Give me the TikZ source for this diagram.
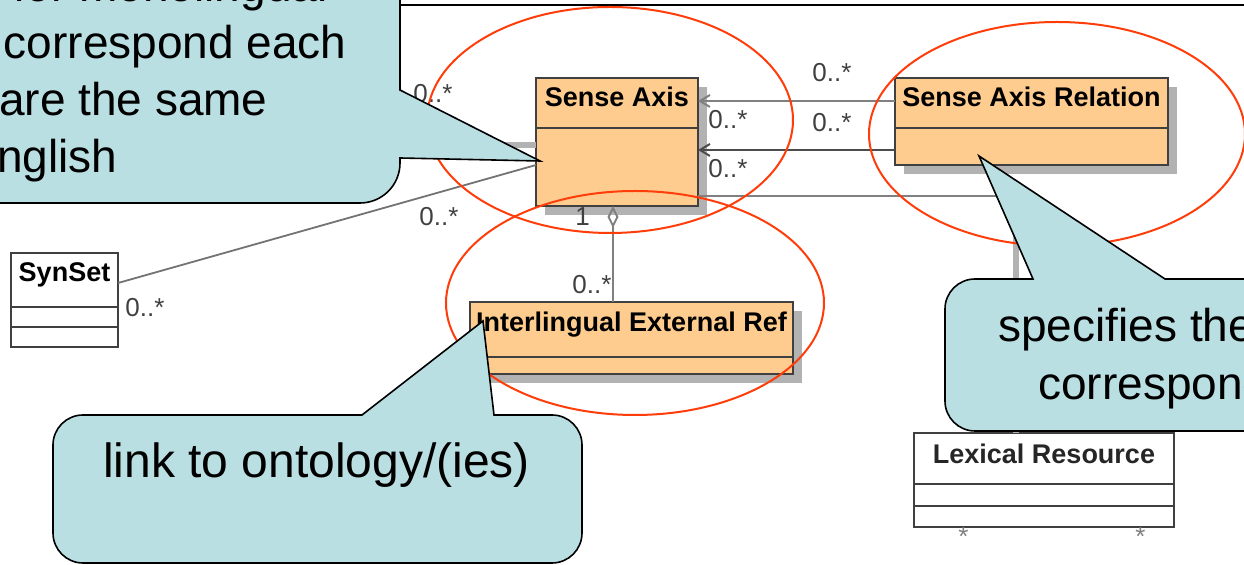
\documentclass[tikz,border=0pt]{standalone}
\usepackage{fontspec}
\setmainfont{Liberation Sans}
\usepackage{tikz}
\usetikzlibrary{calc, shadows, arrows.meta}

\definecolor{classfill}{RGB}{255,204,143}
\definecolor{classline}{RGB}{64,64,64}
\definecolor{notefill}{RGB}{186,223,227}
\definecolor{ringred}{RGB}{255,61,10}

\tikzset{
  umlclass/.style={draw=classline, line width=1.2pt, fill=classfill, anchor=north west,
    inner sep=0pt, outer sep=0pt,
    drop shadow={shadow xshift=4.5pt, shadow yshift=-4.5pt, fill=black!30, opacity=1}},
  plainclass/.style={draw=classline, line width=1.2pt, fill=white, anchor=north west,
    inner sep=0pt, outer sep=0pt},
  classname/.style={font=\bfseries\fontsize{13.5}{15}\selectfont, anchor=base, inner sep=0pt},
  compartment/.style={draw=classline, line width=1.2pt},
  assoc/.style={draw=black!50, line width=1pt},
  assocdark/.style={draw=black!70, line width=1pt},
  assocpale/.style={draw=black!30, line width=2.8pt},
  mult/.style={font=\fontsize{13}{15}\selectfont, text=black!75, anchor=base west, inner sep=0pt},
  ring/.style={draw=ringred, line width=1pt},
  note/.style={fill=notefill, draw=black, line width=0.8pt},
  notetext/.style={font=\fontsize{23}{27}\selectfont, inner sep=0pt},
  navi/.style={{Straight Barb[length=5pt, width=6pt]}-}
}

\begin{document}
\begin{tikzpicture}[x=0.5pt, y=-0.5pt]
                \clip (0,0) rectangle (1244,565);
                \draw[line width=1.2pt] (400,100) -- (400,5) -- (1250,5);

                \node[umlclass, minimum width=81pt, minimum height=64pt] (sa) at (536,78) {};
                \node[umlclass, minimum width=136.5pt, minimum height=43.5pt] (sar) at (895,78) {};
                \node[umlclass, minimum width=161.5pt, minimum height=36pt] (ier) at (470,302) {};
                \node[plainclass, minimum width=53.5pt, minimum height=47pt] (syn) at (11,253) {};
                \node[plainclass, minimum width=130pt, minimum height=47pt] (lr) at (914,433) {};

                \coordinate (xc) at (1016,196);
                \coordinate (xe) at (613,0);
                \coordinate (hid) at (380,145);

                \draw[assocpale] (hid) -- ($(sa.north west)+(0,67)$);
                \draw[assoc, navi] ($(sa.north east)+(0,23)$) -- ($(sar.north west)+(0,23)$);
                \draw[assocdark, navi] ($(sa.north east)+(0,72)$) -- ($(sar.north west)+(0,72)$);
                \draw[assoc] (sa.east |- xc) -- (xc);
                \draw[assocpale] (xc) -- (lr.north -| xc);
                \draw[assoc, draw=black!55, line width=0.9pt] ($(syn.north east)+(0,30)$) -- ($(sa.north west)+(0,87)$);
                \draw[assoc, {Diamond[open, length=11pt, width=5.5pt]}-] (sa.south -| xe) -- (ier.north -| xe);

                \node[classname] (sa-name) at ($(sa.north)+(0,29)$) {Sense Axis};
                \node[classname] (sar-name) at ($(sar.north)+(0,29)$) {Sense Axis Relation};
                \node[classname] (ier-name) at ($(ier.north)+(0,30)$) {Interlingual External Ref};
                \node[classname] (syn-name) at ($(syn.north)+(0,29)$) {SynSet};
                \node[classname, text=black!85] (lr-name) at ($(lr.north)+(0,31)$) {Lexical Resource};

                \draw[compartment] ($(sa.north west)+(0,50)$) -- ($(sa.north east)+(0,50)$);
                \draw[compartment] ($(sar.north west)+(0,50)$) -- ($(sar.north east)+(0,50)$);
                \draw[compartment] ($(ier.north west)+(0,55)$) -- ($(ier.north east)+(0,55)$);
                \draw[compartment] ($(syn.north west)+(0,54)$) -- ($(syn.north east)+(0,54)$);
                \draw[compartment] ($(syn.north west)+(0,74)$) -- ($(syn.north east)+(0,74)$);
                \draw[compartment] ($(lr.north west)+(0,51)$) -- ($(lr.north east)+(0,51)$);
                \draw[compartment] ($(lr.north west)+(0,73)$) -- ($(lr.north east)+(0,73)$);

                \node[mult] (m1) at (413,103) {0..*};
                \node[mult] (m2) at (419,226) {0..*};
                \node[mult] (m3) at (125,317) {0..*};
                \node[mult] (m4) at (708,129) {0..*};
                \node[mult] (m5) at (812,82) {0..*};
                \node[mult] (m6) at (812,132) {0..*};
                \node[mult] (m7) at (708,178) {0..*};
                \node[mult] (m8) at (572,294) {0..*};
                \node[mult] (m9) at (575,226) {1};
                \node[mult, text=black!50] (m10) at (958,546) {*};
                \node[mult, text=black!50] (m11) at (1135,546) {*};

                \draw[ring] (610,120) ellipse [x radius=91.5pt, y radius=56.5pt];
                \draw[ring] (1057,134) ellipse [x radius=94pt, y radius=56pt];
                \draw[ring] (635,303) ellipse [x radius=94.5pt, y radius=56pt];

                \path[note] (-30,-30) -- (400,-30) -- (400,90) -- (540,161) -- (400,158) -- (400,163)
                    arc[start angle=0, end angle=-90, radius=20pt] -- (-30,203) -- cycle;
                \path[note] (83,415) -- (362,415) -- (483,321) -- (494,415) -- (552,415)
                    arc[start angle=90, end angle=0, radius=15pt] -- (582,533)
                    arc[start angle=0, end angle=-90, radius=15pt] -- (83,563)
                    arc[start angle=270, end angle=180, radius=15pt] -- (53,445)
                    arc[start angle=180, end angle=90, radius=15pt] -- cycle;
                \path[note] (975,279) -- (1033,279) -- (979,156) -- (1165,279) -- (1300,279) -- (1300,431)
                    -- (975,431) arc[start angle=270, end angle=180, radius=15pt] -- (945,309)
                    arc[start angle=180, end angle=90, radius=15pt] -- cycle;

                \node[notetext, anchor=base east] (n1a) at (328,2) {for monolingual};
                \node[notetext, anchor=base east] (n1b) at (347,59) {correspond each};
                \node[notetext, anchor=base east] (n1c) at (268,116) {are the same};
                \node[notetext, anchor=base east] (n1d) at (118,173) {English};
                \node[notetext, anchor=base, font=\fontsize{24}{28}\selectfont] (n2) at (316.5,478) {link to ontology/(ies)};
                \node[notetext, anchor=base west] (n3a) at (998,342) {specifies the};
                \node[notetext, anchor=base west] (n3b) at (1038,400) {correspondence};
            \end{tikzpicture}
\end{document}
